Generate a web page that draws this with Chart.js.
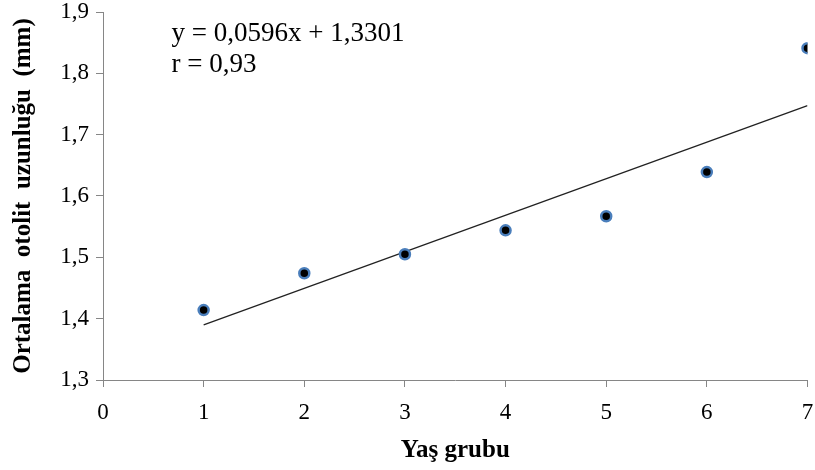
<!DOCTYPE html>
<html>
<head>
<meta charset="utf-8">
<script src="https://cdn.jsdelivr.net/npm/chart.js@4"></script>
<style>
  html, body { margin: 0; padding: 0; background: #fff; }
  #wrap { width: 815px; height: 470px; }
</style>
</head>
<body>
<div id="wrap"><canvas id="myChart" width="815" height="470"></canvas></div>
<script>
// veriler
const yasGrubu = [1, 2, 3, 4, 5, 6, 7];
const otolitUzunlugu = [1.414, 1.474, 1.505, 1.544, 1.567, 1.639, 1.841];
const trendX = [1, 7];
const trendY = [1.3897, 1.7473];
const denklemSatirlari = ["y = 0,0596x + 1,3301", "r = 0,93"];

const serif = "'Liberation Serif', 'Times New Roman', serif";
const gri = "#868686";

// denklem metnini veri koordinatlarında yazan eklenti
const denklemPlugin = {
  id: "denklem",
  afterDraw(chart) {
    const ctx = chart.ctx;
    const x = chart.scales.x.getPixelForValue(0.68);
    const y = chart.scales.y.getPixelForValue(1.864);
    ctx.save();
    ctx.font = "27px " + serif;
    ctx.fillStyle = "#000";
    ctx.textBaseline = "middle";
    denklemSatirlari.forEach((s, i) => ctx.fillText(s, x, y + i * 31));
    ctx.restore();
  }
};

const config = {
  type: "scatter",
  data: {
    datasets: [
      {
        label: "Ortalama",
        data: yasGrubu.map((x, i) => ({ x: x, y: otolitUzunlugu[i] })),
        backgroundColor: "#000",
        borderColor: "#4A7EBB",
        borderWidth: 2.5,
        pointRadius: 5,
        order: 1
      },
      {
        type: "line",
        label: "Trend",
        data: trendX.map((x, i) => ({ x: x, y: trendY[i] })),
        borderColor: "#222",
        borderWidth: 1.3,
        pointRadius: 0,
        fill: false,
        order: 2
      }
    ]
  },
  options: {
    responsive: false,
    animation: false,
    layout: { padding: { top: 12, right: 7, left: 0, bottom: 0 } },
    plugins: { legend: { display: false }, tooltip: { enabled: false } },
    scales: {
      x: {
        type: "linear",
        min: 0,
        max: 7,
        ticks: {
          stepSize: 1,
          color: "#000",
          font: { family: serif, size: 23 },
          padding: 12
        },
        grid: { drawOnChartArea: false, color: gri, tickLength: 7, tickColor: gri },
        border: { color: gri, width: 1 },
        title: {
          display: true,
          text: "Yaş grubu",
          color: "#000",
          font: { family: serif, size: 25, weight: "bold" },
          padding: { top: 6, bottom: 4 }
        },
        afterFit(scale) {
          scale.height = 90;
          scale.paddingLeft = 0;
          scale.paddingRight = 0;
        }
      },
      y: {
        min: 1.3,
        max: 1.9,
        ticks: {
          stepSize: 0.1,
          color: "#000",
          font: { family: serif, size: 23 },
          padding: 7,
          callback: (v) => v.toFixed(1).replace(".", ",")
        },
        grid: { drawOnChartArea: false, color: gri, tickLength: 7, tickColor: gri },
        border: { color: gri, width: 1 },
        title: {
          display: true,
          text: "Ortalama  otolit  uzunluğu  (mm)",
          color: "#000",
          font: { family: serif, size: 25, weight: "bold" },
          padding: { top: 9, bottom: 4 }
        },
        afterFit(scale) {
          scale.width = 103;
          scale.paddingTop = 0;
          scale.paddingBottom = 0;
        }
      }
    }
  },
  plugins: [denklemPlugin]
};

new Chart(document.getElementById("myChart").getContext("2d"), config);
</script>
</body>
</html>
